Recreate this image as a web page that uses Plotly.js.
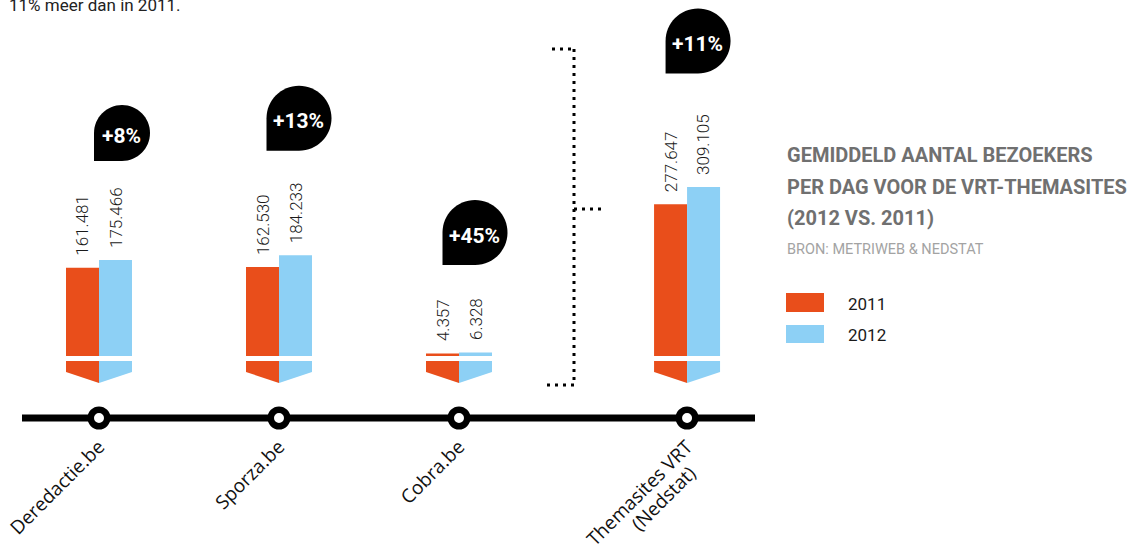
<!DOCTYPE html>
<html><head><meta charset="utf-8">
<script src="https://cdn.plot.ly/plotly-3.0.1.min.js"></script>
<style>html,body{margin:0;padding:0;background:#fff}</style>
</head><body><div id="chart" style="width:1133px;height:545px"></div>
<script>
// ---------- data ----------
const categories = ['Deredactie.be', 'Sporza.be', 'Cobra.be', 'Themasites VRT<br>(Nedstat)'];
const visitors2011 = [161481, 162530, 4357, 277647];
const visitors2012 = [175466, 184233, 6328, 309105];
const growthLabels = ['+8%', '+13%', '+45%', '+11%'];
const seriesNames = ['2011', '2012'];
const titleLines = ['GEMIDDELD AANTAL BEZOEKERS', 'PER DAG VOOR DE VRT-THEMASITES', '(2012 VS. 2011)'];
const sourceText = 'BRON: METRIWEB & NEDSTAT';
const introText = '11% meer dan in 2011.';

// ---------- layout / style ----------
const W = 1133, H = 545;
const plotL = 22, plotR = 755, plotT = 0, plotB = 418;
const groupPos = [0, 1, 2, 3.267];          // horizontal position of each group
const unitPx = 180;                          // pixels per x unit
const baselinePx = 356;
const pxPerVisitor = 0.547 / 1000;
const yMax = (baselinePx - plotT) / pxPerVisitor;
const yMin = -(plotB - baselinePx) / pxPerVisitor;
const xMin = -(99 - plotL) / unitPx;
const xMax = (plotR - 99) / unitPx;
const barW = 33 / unitPx;
const orange = '#E94E1B', blue = '#8DD0F5';
const pinDx = [23, 20, 16, 11];
const pinDy = [127, 137, 120, 146];
const pinR = [28, 32.5, 32.5, 32.5];
const catFont = {family: '"Open Sans", sans-serif', size: 19, color: '#111'};

const fmt = v => String(v).replace(/\B(?=(\d{3})+(?!\d))/g, '.');
const px2x = p => (p - plotL) / (plotR - plotL);
const py2y = p => (plotB - p) / (plotB - plotT);

const traces = [
  {type: 'bar', name: seriesNames[0], x: groupPos, y: visitors2011, base: 0,
   width: barW, offset: -barW, marker: {color: orange, line: {width: 0}},
   hoverinfo: 'skip', showlegend: false},
  {type: 'bar', name: seriesNames[1], x: groupPos, y: visitors2012, base: 0,
   width: barW, offset: 0, marker: {color: blue, line: {width: 0}},
   hoverinfo: 'skip', showlegend: false},
  {type: 'scatter', mode: 'markers', x: groupPos, y: groupPos.map(() => yMin),
   marker: {size: 16.5, color: '#fff', line: {color: '#000', width: 6.5}},
   cliponaxis: false, hoverinfo: 'skip', showlegend: false}
];

const shapes = [];
const annotations = [];

// timeline
shapes.push({type: 'line', xref: 'paper', yref: 'paper', x0: 0, x1: 1, y0: 0, y1: 0,
  line: {color: '#000', width: 7}, layer: 'below'});

groupPos.forEach((gx, i) => {
  // chevrons under bars
  shapes.push({type: 'path', xref: 'x', yref: 'y', xsizemode: 'pixel', ysizemode: 'pixel',
    xanchor: gx, yanchor: 0, path: 'M-33,-5 L0,-5 L0,-27 L-33,-16 Z',
    fillcolor: orange, line: {width: 0}});
  shapes.push({type: 'path', xref: 'x', yref: 'y', xsizemode: 'pixel', ysizemode: 'pixel',
    xanchor: gx, yanchor: 0, path: 'M0,-5 L33,-5 L33,-16 L0,-27 Z',
    fillcolor: blue, line: {width: 0}});
  // pin (drop) shape
  const r = pinR[i], k = 0.5523 * r, cx = pinDx[i], cy = pinDy[i];
  const P = (a, b) => (cx + a).toFixed(2) + ',' + (cy + b).toFixed(2);
  const path = 'M' + P(0, -r) +
    ' C' + P(k, -r) + ' ' + P(r, -k) + ' ' + P(r, 0) +
    ' C' + P(r, k) + ' ' + P(k, r) + ' ' + P(0, r) +
    ' C' + P(-k, r) + ' ' + P(-r, k) + ' ' + P(-r, 0) +
    ' L' + P(-r, -r) + ' Z';
  shapes.push({type: 'path', xref: 'x', yref: 'y', xsizemode: 'pixel', ysizemode: 'pixel',
    xanchor: gx, yanchor: visitors2012[i], path: path, fillcolor: '#000', line: {width: 0}});
  annotations.push({x: gx, y: visitors2012[i], xref: 'x', yref: 'y', xshift: cx - 1, yshift: cy - 3,
    text: '<b>' + growthLabels[i] + '</b>', showarrow: false, xanchor: 'center', yanchor: 'middle',
    font: {family: 'Roboto, sans-serif', size: 21, color: '#fff'}});
  // value labels
  [[visitors2011, -barW / 2], [visitors2012, barW / 2]].forEach(([arr, off]) => {
    annotations.push({x: gx + off, y: arr[i], xref: 'x', yref: 'y', text: fmt(arr[i]),
      textangle: -90, showarrow: false, xanchor: 'center', yanchor: 'bottom', yshift: 11,
      borderpad: 0, font: {family: 'Roboto, sans-serif', size: 17, weight: 300, color: '#1a1a1a'}});
  });
  // extra lines of a category label (first line is the axis tick label)
  const extra = categories[i].split('<br>').slice(1);
  extra.forEach((t, j) => {
    annotations.push({x: gx, y: 0, xref: 'x', yref: 'paper', xshift: 16, yshift: -41 - 30 * j,
      text: t, textangle: -45, showarrow: false, xanchor: 'right', yanchor: 'top',
      borderpad: 0, font: catFont});
  });
});

// dotted bracket
const dot = {color: '#000', width: 3, dash: '3px,5px'};
[[574, 49, 574, 385], [552, 49, 574, 49], [574, 209, 601, 209], [547, 385, 574, 385]].forEach(s => {
  shapes.push({type: 'line', xref: 'paper', yref: 'paper', x0: px2x(s[0]), y0: py2y(s[1]),
    x1: px2x(s[2]), y1: py2y(s[3]), line: dot});
});

// intro text (cut at top)
annotations.push({xref: 'paper', yref: 'paper', x: px2x(8), y: py2y(16), xanchor: 'left', yanchor: 'bottom',
  text: introText, showarrow: false, borderpad: 0, font: {family: 'Roboto, sans-serif', size: 17, color: '#222'}});

// title block
const titleY = [155, 187, 218];
titleLines.forEach((t, i) => {
  annotations.push({xref: 'paper', yref: 'paper', x: px2x(786), y: py2y(titleY[i]), xanchor: 'left', yanchor: 'middle',
    text: '<b>' + t + '</b>', showarrow: false, borderpad: 0,
    font: {family: 'Roboto, sans-serif', size: 20, color: '#707070'}});
});
annotations.push({xref: 'paper', yref: 'paper', x: px2x(786), y: py2y(249), xanchor: 'left', yanchor: 'middle',
  text: sourceText, showarrow: false, borderpad: 0, font: {family: 'Roboto, sans-serif', size: 14.5, color: '#a3a3a3'}});

// legend
[[orange, 293, 312], [blue, 325, 343]].forEach((L, i) => {
  shapes.push({type: 'rect', xref: 'paper', yref: 'paper', x0: px2x(786), x1: px2x(824),
    y0: py2y(L[1]), y1: py2y(L[2]), fillcolor: L[0], line: {width: 0}});
  annotations.push({xref: 'paper', yref: 'paper', x: px2x(847), y: py2y((L[1] + L[2]) / 2 + 1), xanchor: 'left', yanchor: 'middle',
    text: seriesNames[i], showarrow: false, borderpad: 0, font: {family: 'Roboto, sans-serif', size: 17, color: '#1a1a1a'}});
});

const layout = {
  width: W, height: H,
  margin: {l: plotL, r: W - plotR, t: plotT, b: H - plotB, pad: 0},
  paper_bgcolor: '#fff', plot_bgcolor: 'rgba(0,0,0,0)',
  barmode: 'overlay', showlegend: false,
  xaxis: {range: [xMin, xMax], tickvals: groupPos, ticktext: categories.map(c => c.split('<br>')[0]),
    tickangle: -45, showgrid: false, zeroline: false, showline: false, ticks: '', ticklabelstandoff: 13,
    tickfont: catFont, fixedrange: true},
  yaxis: {range: [yMin, yMax], visible: false, fixedrange: true},
  shapes: shapes, annotations: annotations
};

Plotly.newPlot('chart', traces, layout, {displayModeBar: false, staticPlot: true});
</script></body></html>
